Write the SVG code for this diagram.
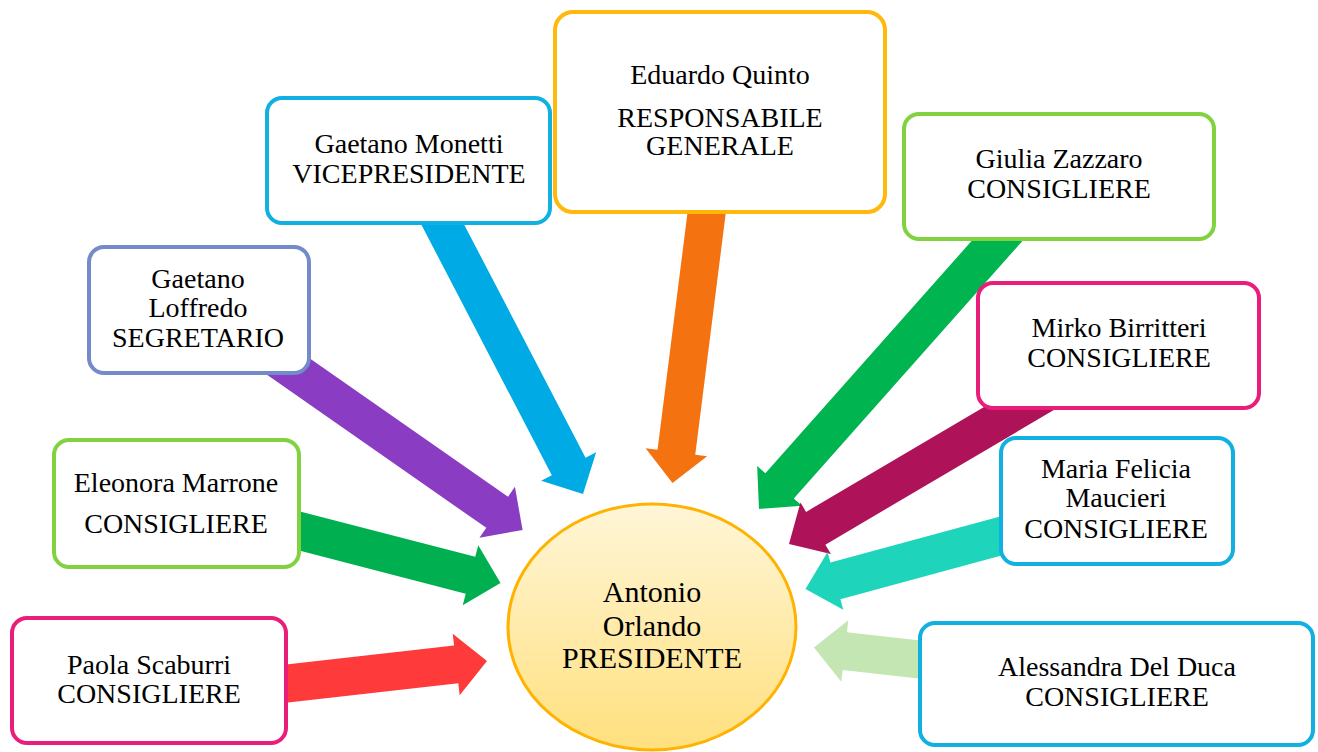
<svg xmlns="http://www.w3.org/2000/svg" width="1318" height="752" viewBox="0 0 1318 752">
<defs>
<linearGradient id="sun" x1="0" y1="0" x2="0" y2="1">
<stop offset="0" stop-color="#FFF6D8"/>
<stop offset="1" stop-color="#FFE07E"/>
</linearGradient>
<style>
.box{fill:#FFFFFF;stroke-width:4}
text{font-family:'Liberation Serif','Times New Roman',Tinos,'DejaVu Serif',serif;fill:#000;text-anchor:middle}
.t{font-size:28px}
.tp{font-size:30px}
</style>
</defs>
<rect width="1318" height="752" fill="#FFFFFF"/>
<g id="connectors">
<polygon fill="#FF3A3A" transform="translate(487,661) rotate(-6.4)" points="-220,-19 -31,-19 -31,-31 0,0 -31,31 -31,19 -220,19"/>
<polygon fill="#00B050" transform="translate(500.5,583) rotate(14.5)" points="-225,-19 -31,-19 -31,-31 0,0 -31,31 -31,19 -225,19"/>
<polygon fill="#8A3CC3" transform="translate(522.6,530) rotate(34.9)" points="-308,-19 -31,-19 -31,-31 0,0 -31,31 -31,19 -308,19"/>
<polygon fill="#00AAE4" transform="translate(583,494) rotate(62.5)" points="-320,-19 -31,-19 -31,-31 0,0 -31,31 -31,19 -320,19"/>
<polygon fill="#F4720F" transform="translate(672.5,483) rotate(97.2)" points="-285,-19 -31,-19 -31,-31 0,0 -31,31 -31,19 -285,19"/>
<polygon fill="#00B450" transform="translate(759,509) rotate(131.6)" points="-390,-19 -31,-19 -31,-30 0,0 -31,30 -31,19 -390,19"/>
<polygon fill="#AE1259" transform="translate(789,544) rotate(149.5)" points="-305,-19 -31,-19 -31,-30 0,0 -31,30 -31,19 -305,19"/>
<polygon fill="#1ED4BA" transform="translate(805.5,589) rotate(164.8)" points="-225,-19 -31,-19 -31,-30 0,0 -31,30 -31,19 -225,19"/>
<polygon fill="#C4E6B3" transform="translate(814,647.5) rotate(186.5)" points="-125,-19 -31,-19 -31,-31 0,0 -31,31 -31,19 -125,19"/>
</g>
<g id="node-paola">
<rect class="box" x="12" y="618" width="274" height="125" rx="15" stroke="#E91E7B"/>
<text class="t" x="149" y="674" font-family="Liberation Serif, serif">Paola Scaburri</text>
<text class="t" x="149" y="703" font-family="Liberation Serif, serif">CONSIGLIERE</text>
</g>
<g id="node-eleonora">
<rect class="box" x="54" y="440" width="245" height="127" rx="15" stroke="#80D23E"/>
<text class="t" x="176" y="492">Eleonora Marrone</text>
<text class="t" x="176" y="533">CONSIGLIERE</text>
</g>
<g id="node-loffredo">
<rect class="box" x="89" y="247" width="220" height="126" rx="15" stroke="#738BC8"/>
<text class="t" x="198" y="288">Gaetano</text>
<text class="t" x="198" y="317">Loffredo</text>
<text class="t" x="198" y="347">SEGRETARIO</text>
</g>
<g id="node-monetti">
<rect class="box" x="267" y="98" width="283" height="125" rx="15" stroke="#12B0E0"/>
<text class="t" x="409" y="153">Gaetano Monetti</text>
<text class="t" x="409" y="183">VICEPRESIDENTE</text>
</g>
<g id="node-quinto">
<rect class="box" x="555" y="12" width="330" height="200" rx="18" stroke="#FFB80C"/>
<text class="t" x="720" y="84">Eduardo Quinto</text>
<text class="t" x="720" y="127">RESPONSABILE</text>
<text class="t" x="720" y="155">GENERALE</text>
</g>
<g id="node-zazzaro">
<rect class="box" x="904" y="114" width="310" height="125" rx="15" stroke="#80D23E"/>
<text class="t" x="1059" y="168">Giulia Zazzaro</text>
<text class="t" x="1059" y="198">CONSIGLIERE</text>
</g>
<g id="node-birritteri">
<rect class="box" x="978" y="283" width="281" height="125" rx="15" stroke="#E91E7B"/>
<text class="t" x="1119" y="337">Mirko Birritteri</text>
<text class="t" x="1119" y="367">CONSIGLIERE</text>
</g>
<g id="node-maucieri">
<rect class="box" x="1001" y="438" width="232" height="126" rx="15" stroke="#12B0E0"/>
<text class="t" x="1116" y="478">Maria Felicia</text>
<text class="t" x="1116" y="507">Maucieri</text>
<text class="t" x="1116" y="538">CONSIGLIERE</text>
</g>
<g id="node-delduca">
<rect class="box" x="920" y="623" width="393" height="122" rx="15" stroke="#12B0E0"/>
<text class="t" x="1117" y="676">Alessandra Del Duca</text>
<text class="t" x="1117" y="706">CONSIGLIERE</text>
</g>
<g id="node-orlando">
<ellipse cx="652" cy="627" rx="144" ry="123" fill="url(#sun)" stroke="#FFB300" stroke-width="3"/>
<text class="tp" x="652" y="602">Antonio</text>
<text class="tp" x="652" y="636">Orlando</text>
<text class="tp" x="652" y="668">PRESIDENTE</text>
</g>
</svg>
